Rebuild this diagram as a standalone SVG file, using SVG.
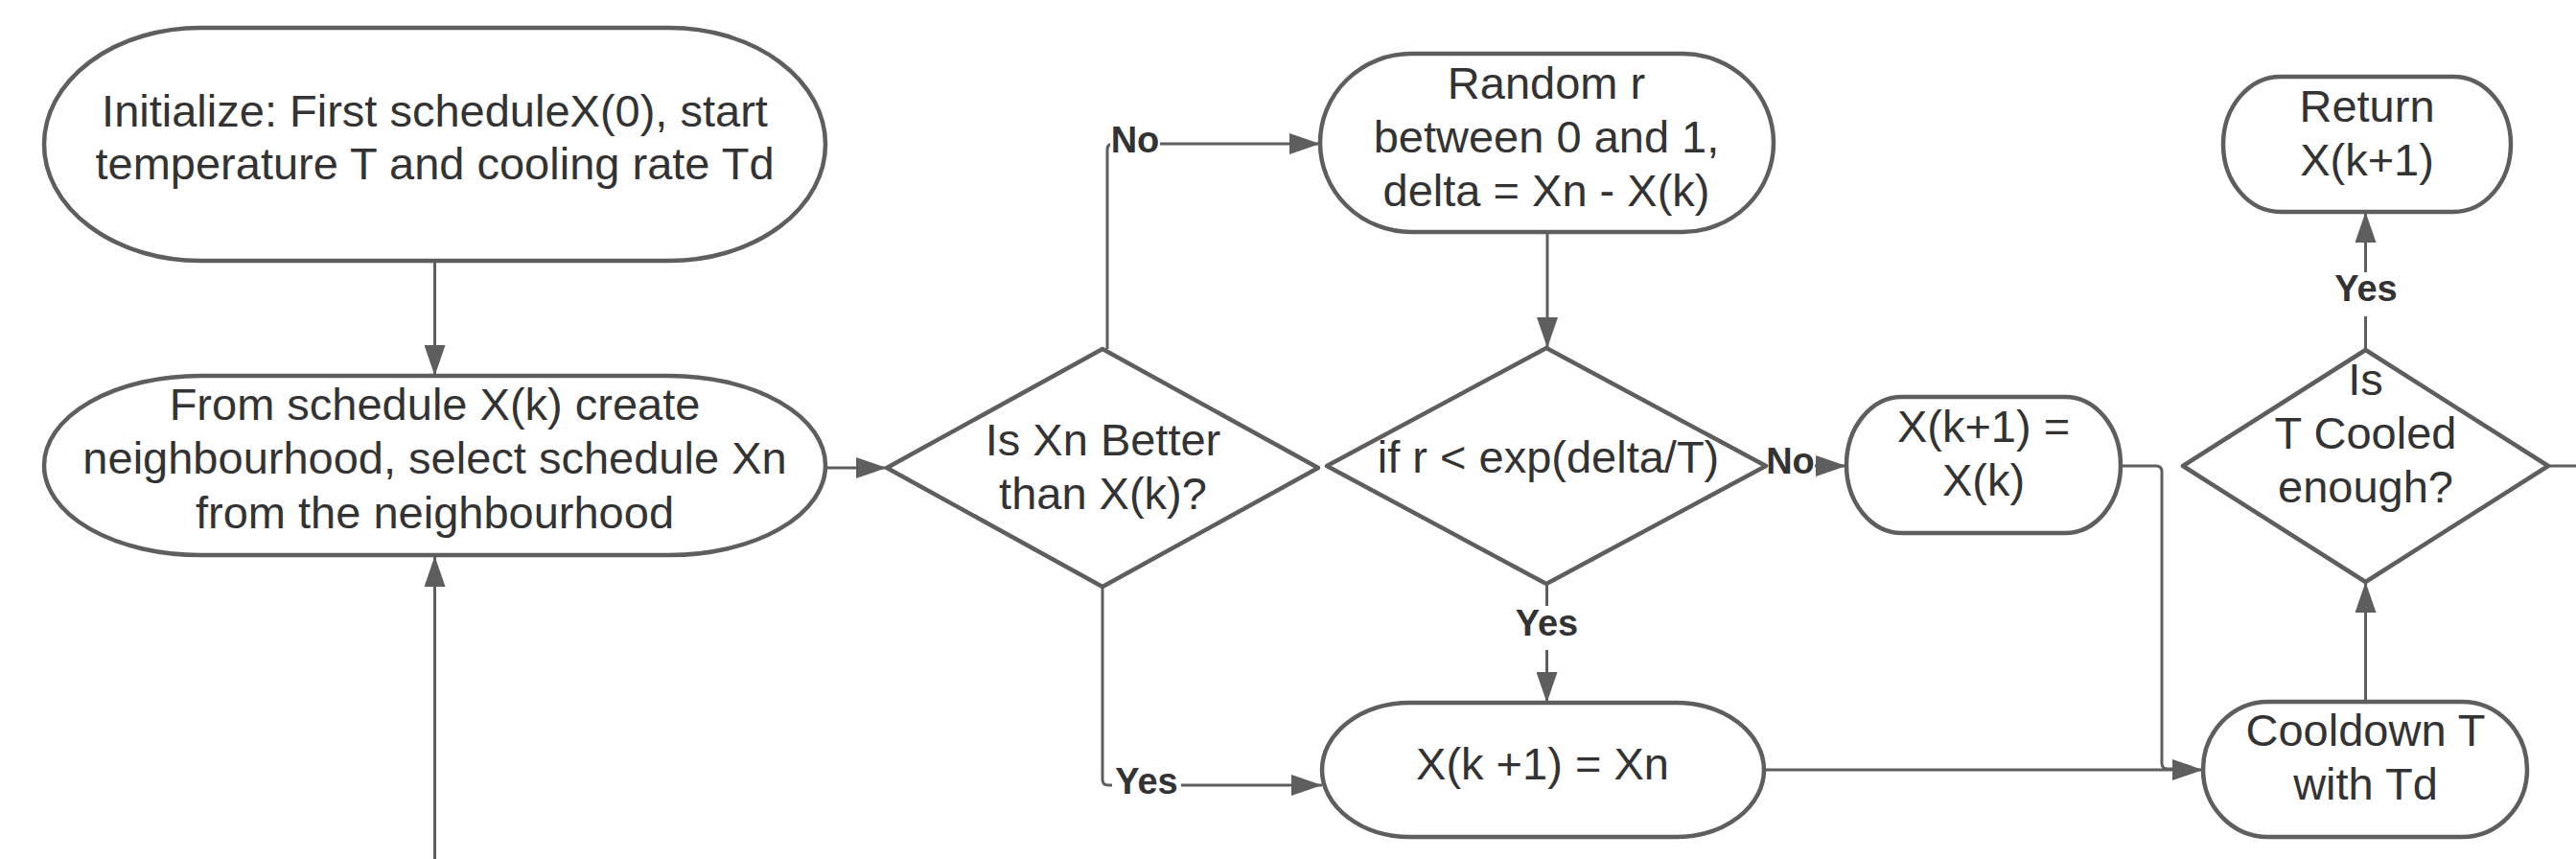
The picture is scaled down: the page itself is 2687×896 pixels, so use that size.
<svg xmlns="http://www.w3.org/2000/svg" width="2687" height="896" viewBox="0 0 2687 896">
  <style>
    .shape { fill: #ffffff; stroke: #5e5e5e; stroke-width: 4.5; stroke-linejoin: round; }
    .txt { font-family: "Liberation Sans", Arial, sans-serif; font-size: 47px; fill: #333333; text-anchor: middle; }
    .conn { fill: none; stroke: #5e5e5e; stroke-width: 3; }
    .arrow { marker-end: url(#head); }
    .lblbg { fill: #ffffff; stroke: none; }
    .lbl { font-family: "Liberation Sans", Arial, sans-serif; font-size: 38px; font-weight: bold; fill: #333333; text-anchor: middle; }
  </style>
  <defs>
    <marker id="head" markerUnits="userSpaceOnUse" markerWidth="33" markerHeight="22" refX="32" refY="11" orient="auto">
      <path d="M0,0 L32,11 L0,22 Z" fill="#5e5e5e"/>
    </marker>
  </defs>
  <rect width="2687" height="896" fill="#ffffff"/>

  <!-- connectors -->
  <g id="connectors">
    <path class="conn arrow" d="M453.5,272 V392"/>
    <path class="conn arrow" d="M453.5,896 V580"/>
    <path class="conn arrow" d="M861,488 H925"/>
    <path class="conn arrow" d="M1155,364 V156 Q1155,150 1161,150 H1377"/>
    <path class="conn arrow" d="M1614,242 V363"/>
    <path class="conn arrow" d="M1613.5,609 V733"/>
    <path class="conn arrow" d="M1842,486 H1926"/>
    <path class="conn" d="M2212,486 H2249 Q2255,486 2255,492 V796 Q2255,802 2261,802 H2270"/>
    <path class="conn arrow" d="M1840,803 H2298"/>
    <path class="conn arrow" d="M1150,612 V813 Q1150,819 1156,819 H1379"/>
    <path class="conn arrow" d="M2467.5,732 V607"/>
    <path class="conn arrow" d="M2467.5,365 V221"/>
    <path class="conn" d="M2658,486 H2687"/>

    <!-- branch labels -->
    <g id="label-no-1">
      <rect class="lblbg" x="1158" y="128" width="52" height="44"/>
      <text class="lbl" x="1184" y="158.5">No</text>
    </g>
    <g id="label-yes-1">
      <rect class="lblbg" x="1160" y="797" width="72" height="44"/>
      <text class="lbl" x="1196" y="827.5">Yes</text>
    </g>
    <g id="label-yes-2">
      <rect class="lblbg" x="1577" y="632" width="73" height="46"/>
      <text class="lbl" x="1613.5" y="662.5">Yes</text>
    </g>
    <g id="label-no-2">
      <rect class="lblbg" x="1843" y="464" width="50" height="44"/>
      <text class="lbl" x="1867.5" y="494">No</text>
    </g>
    <g id="label-yes-3">
      <rect class="lblbg" x="2431" y="284" width="73" height="46"/>
      <text class="lbl" x="2468" y="314">Yes</text>
    </g>
  </g>

  <!-- nodes -->
  <g id="init">
    <rect class="shape" x="46" y="29" width="815" height="243" rx="163" ry="121.5"/>
    <text class="txt" x="453.5" y="131.7">Initialize: First scheduleX(0), start</text>
    <text class="txt" x="453.5" y="187.3">temperature T and cooling rate Td</text>
  </g>

  <g id="neighbourhood">
    <rect class="shape" x="46" y="392" width="815" height="187" rx="163" ry="93.5"/>
    <text class="txt" x="453.5" y="438.3">From schedule X(k) create</text>
    <text class="txt" x="453.5" y="494.3">neighbourhood, select schedule Xn</text>
    <text class="txt" x="453.5" y="551">from the neighbourhood</text>
  </g>

  <g id="is-better">
    <path class="shape" d="M925,488 L1150,364 L1375,488 L1150,612 Z"/>
    <text class="txt" x="1150.5" y="475">Is Xn Better</text>
    <text class="txt" x="1150.5" y="530.7">than X(k)?</text>
  </g>

  <g id="random-r">
    <rect class="shape" x="1377" y="56" width="473" height="186" rx="95" ry="93"/>
    <text class="txt" x="1613" y="103.3">Random r</text>
    <text class="txt" x="1613" y="159">between 0 and 1,</text>
    <text class="txt" x="1613" y="215">delta = Xn - X(k)</text>
  </g>

  <g id="accept-test">
    <path class="shape" d="M1384,486 L1613,363 L1842,486 L1613,609 Z"/>
    <text class="txt" x="1615" y="493.3">if r &lt; exp(delta/T)</text>
  </g>

  <g id="keep-current">
    <rect class="shape" x="1926" y="414" width="286" height="142" rx="58" ry="71"/>
    <text class="txt" x="2069" y="461">X(k+1) =</text>
    <text class="txt" x="2069" y="516.7">X(k)</text>
  </g>

  <g id="take-new">
    <rect class="shape" x="1379" y="733" width="461" height="140" rx="92" ry="70"/>
    <text class="txt" x="1609" y="813.3">X(k +1) = Xn</text>
  </g>

  <g id="cooldown">
    <rect class="shape" x="2298" y="732" width="338" height="141" rx="68" ry="70.5"/>
    <text class="txt" x="2467.5" y="778.3">Cooldown T</text>
    <text class="txt" x="2467.5" y="834.3">with Td</text>
  </g>

  <g id="cooled-enough">
    <path class="shape" d="M2277,486 L2467.5,365 L2658,486 L2467.5,607 Z"/>
    <text class="txt" x="2467.5" y="411.7">Is</text>
    <text class="txt" x="2467.5" y="468.3">T Cooled</text>
    <text class="txt" x="2467.5" y="524">enough?</text>
  </g>

  <g id="return">
    <rect class="shape" x="2319" y="80" width="300" height="141" rx="60" ry="70.5"/>
    <text class="txt" x="2469" y="126.7">Return</text>
    <text class="txt" x="2469" y="182.7">X(k+1)</text>
  </g>
</svg>
